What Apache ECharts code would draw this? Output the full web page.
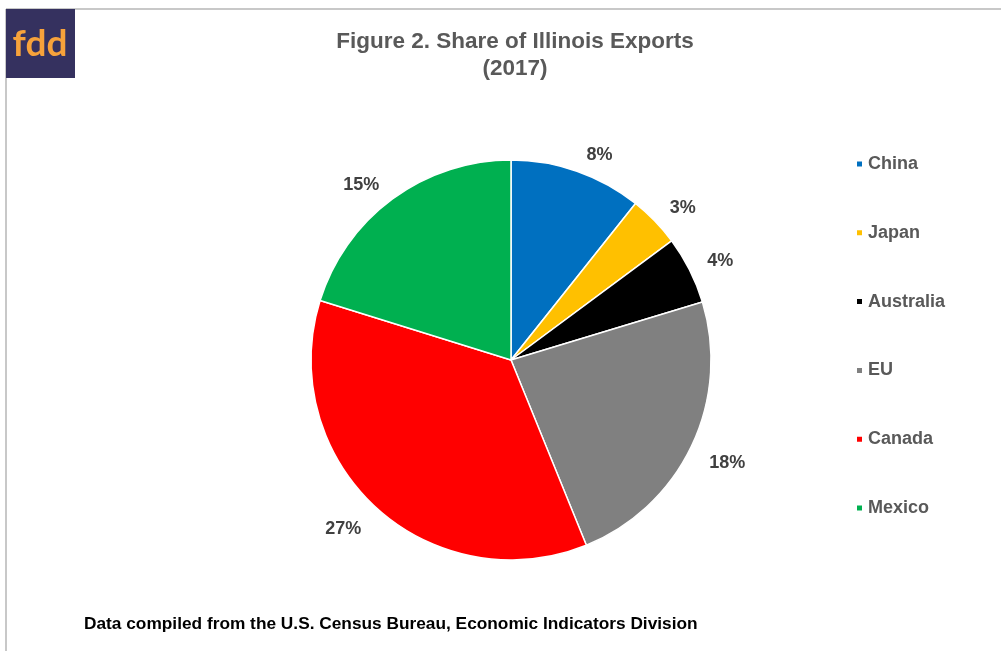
<!DOCTYPE html>
<html>
<head>
<meta charset="utf-8">
<script src="https://cdn.jsdelivr.net/npm/echarts@6/dist/echarts.min.js"></script>
<style>
html,body{margin:0;padding:0;background:#fff;}
#chart{width:1001px;height:651px;}
</style>
</head>
<body>
<div id="chart"></div>
<script>
const categories = ['China', 'Japan', 'Australia', 'EU', 'Canada', 'Mexico'];
const shares = [8.0, 3.1, 4.1, 17.6, 26.9, 15.1];
const colors = ['#0070C0', '#FFC000', '#000000', '#808080', '#FF0000', '#00B050'];
const titleText = 'Figure 2. Share of Illinois Exports\n(2017)';
const sourceText = 'Data compiled from the U.S. Census Bureau, Economic Indicators Division';

const chart = echarts.init(document.getElementById('chart'), null, {renderer: 'canvas'});
const font = 'Liberation Sans, Arial, sans-serif';
chart.setOption({
  backgroundColor: '#ffffff',
  animation: false,
  title: {
    text: titleText,
    left: 510,
    textAlign: 'center',
    top: 23,
    textStyle: {fontFamily: font, fontSize: 22.5, fontWeight: 'bold', color: '#595959', lineHeight: 27}
  },
  legend: {
    orient: 'vertical',
    left: 850,
    top: 150,
    itemWidth: 7,
    itemHeight: 7,
    itemGap: 50.8,
    icon: 'rect',
    textStyle: {fontFamily: font, fontSize: 18, fontWeight: 'bold', color: '#595959', padding: [0, 0, 0, 0]},
    data: categories
  },
  graphic: [
    {type: 'line', shape: {x1: 6, y1: 9, x2: 1001, y2: 9}, style: {stroke: '#c8c8c8', lineWidth: 2}},
    {type: 'line', shape: {x1: 6, y1: 9, x2: 6, y2: 651}, style: {stroke: '#c8c8c8', lineWidth: 2}},
    {type: 'rect', shape: {x: 6, y: 9, width: 69, height: 69}, style: {fill: '#35315f'}},
    {type: 'text', x: 40, y: 44, style: {text: 'fdd', fill: '#f7a23b', align: 'center', verticalAlign: 'middle', font: 'bold 37px Lato, "Open Sans", sans-serif'}},
    {type: 'text', left: 84, top: 616, style: {text: sourceText, fill: '#000000', font: 'bold 17.3px "Liberation Sans Narrow", "Liberation Sans", Arial, sans-serif'}}
  ],
  series: [{
    type: 'pie',
    center: [511, 360],
    radius: 200,
    startAngle: 90,
    clockwise: true,
    avoidLabelOverlap: false,
    itemStyle: {borderColor: '#ffffff', borderWidth: 1.5},
    label: {
      show: true,
      position: 'outside',
      formatter: p => Math.round(p.value) + '%',
      fontFamily: font,
      fontSize: 18,
      fontWeight: 'bold',
      color: '#404040'
    },
    labelLine: {show: false, length: 14, length2: 0},
    labelLayout: function (params) {
      const r = params.labelRect;
      const cy = r.y + r.height / 2;
      return {dy: cy > 360 ? r.height / 2 + 2 : -3};
    },
    emphasis: {disabled: true},
    data: categories.map((c, i) => ({name: c, value: shares[i], itemStyle: {color: colors[i]}}))
  }]
});
</script>
</body>
</html>
